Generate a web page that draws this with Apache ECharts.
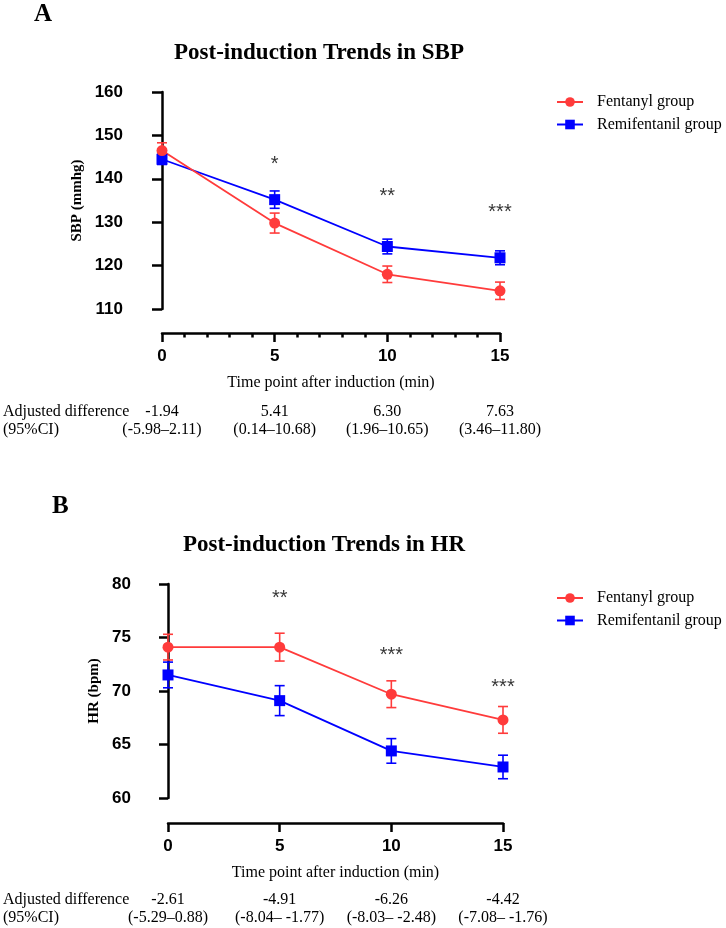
<!DOCTYPE html>
<html>
<head>
<meta charset="utf-8">
<script src="https://cdn.jsdelivr.net/npm/echarts@6/dist/echarts.min.js"></script>
<style>
html,body{margin:0;padding:0;background:#fff;}
#chart{width:726px;height:928px;}
</style>
</head>
<body>
<div id="chart"></div>
<script>
// ---- data ----
const times = [0, 5, 10, 15];
const groupNames = ['Fentanyl group', 'Remifentanil group'];

const sbpFentanyl = [146.5, 129.8, 118.0, 114.2];
const sbpFentanylErr = [1.8, 2.3, 1.9, 2.0];
const sbpRemi = [144.5, 135.2, 124.4, 121.8];
const sbpRemiErr = [1.2, 2.0, 1.7, 1.6];
const sbpStars = ['', '*', '**', '***'];
const sbpStarY = [null, 143.3, 136.0, 132.3];
const sbpAdj = ['-1.94', '5.41', '6.30', '7.63'];
const sbpCI = ['(-5.98–2.11)', '(0.14–10.68)', '(1.96–10.65)', '(3.46–11.80)'];

const hrFentanyl = [74.1, 74.1, 69.7, 67.3];
const hrFentanylErr = [1.2, 1.3, 1.25, 1.25];
const hrRemi = [71.5, 69.1, 64.4, 62.9];
const hrRemiErr = [1.2, 1.4, 1.15, 1.1];
const hrStars = ['', '**', '***', '***'];
const hrStarY = [null, 78.6, 73.3, 70.3];
const hrAdj = ['-2.61', '-4.91', '-6.26', '-4.42'];
const hrCI = ['(-5.29–0.88)', '(-8.04– -1.77)', '(-8.03– -2.48)', '(-7.08– -1.76)'];

const sbpTicks = {min: 110, max: 160, interval: 10};
const hrTicks = {min: 60, max: 80, interval: 5};

// ---- styles ----
const RED = '#ff3b3b';
const BLUE = '#0000ff';
const SERIF = 'Liberation Serif';
const SANS = 'Liberation Sans';

const chart = echarts.init(document.getElementById('chart'), null, {renderer: 'canvas'});

function errRender(color) {
  return function (params, api) {
    const x = api.value(0), y = api.value(1), e = api.value(2);
    const top = api.coord([x, y + e]);
    const bot = api.coord([x, y - e]);
    const w = 5;
    const style = {stroke: color, lineWidth: 1.6, fill: null};
    return {
      type: 'group',
      children: [
        {type: 'line', shape: {x1: top[0], y1: top[1], x2: bot[0], y2: bot[1]}, style: style},
        {type: 'line', shape: {x1: top[0] - w, y1: top[1], x2: top[0] + w, y2: top[1]}, style: style},
        {type: 'line', shape: {x1: bot[0] - w, y1: bot[1], x2: bot[0] + w, y2: bot[1]}, style: style}
      ]
    };
  };
}

function pairs(vals) { return times.map((t, i) => [t, vals[i]]); }
function triples(vals, errs) { return times.map((t, i) => [t, vals[i], errs[i]]); }
function starData(labels, ys) {
  const out = [];
  times.forEach((t, i) => { if (labels[i]) out.push([t, ys[i], labels[i]]); });
  return out;
}

function makeYAxis(gridIndex, ticks, name, offset, nameGap, labelMargin, tickLen) {
  return {
    type: 'value', gridIndex: gridIndex, min: ticks.min, max: ticks.max, interval: ticks.interval,
    offset: offset, name: name, nameLocation: 'middle', nameGap: nameGap, nameRotate: 90,
    nameTextStyle: {fontFamily: SERIF, fontWeight: 'bold', fontSize: 15, color: '#000'},
    axisLine: {show: true, lineStyle: {color: '#000', width: 2.5}},
    axisTick: {show: true, length: tickLen, lineStyle: {color: '#000', width: 2.5}},
    axisLabel: {margin: labelMargin, fontFamily: SANS, fontWeight: 'bold', fontSize: 17, color: '#000'},
    splitLine: {show: false}
  };
}

function makeXAxis(gridIndex, offset, minor) {
  return {
    type: 'value', gridIndex: gridIndex, min: 0, max: 15, interval: 5, position: 'bottom',
    offset: offset, name: 'Time point after induction (min)', nameLocation: 'middle', nameGap: 42,
    nameTextStyle: {fontFamily: SERIF, fontSize: 16, color: '#000'},
    axisLine: {show: true, onZero: false, lineStyle: {color: '#000', width: 2.5}},
    axisTick: {show: true, length: 9, lineStyle: {color: '#000', width: 2.5}},
    minorTick: {show: minor, splitNumber: 5, length: 4.5, lineStyle: {color: '#000', width: 2.5}},
    axisLabel: {margin: 15, fontFamily: SANS, fontWeight: 'bold', fontSize: 17, color: '#000'},
    splitLine: {show: false}, minorSplitLine: {show: false}
  };
}

function makeAdjAxis(gridIndex, offset, margin, adj, ci) {
  return {
    type: 'value', gridIndex: gridIndex, min: 0, max: 15, interval: 5, position: 'bottom',
    offset: offset,
    axisLine: {show: false, onZero: false}, axisTick: {show: false}, splitLine: {show: false},
    axisLabel: {
      margin: margin, color: '#000',
      formatter: function (v) { const i = Math.round(v / 5); return '{a|' + adj[i] + '}\n{a|' + ci[i] + '}'; },
      rich: {a: {fontFamily: SERIF, fontSize: 16, lineHeight: 18, color: '#000'}}
    }
  };
}

function lineSeries(name, xi, yi, vals, color, symbol) {
  return {
    name: name, type: 'line', xAxisIndex: xi, yAxisIndex: yi, data: pairs(vals),
    symbol: symbol, symbolSize: 11, showSymbol: true,
    lineStyle: {color: color, width: 1.8}, itemStyle: {color: color}, z: 3
  };
}
function errSeries(name, xi, yi, vals, errs, color) {
  return {
    name: name, type: 'custom', xAxisIndex: xi, yAxisIndex: yi, data: triples(vals, errs),
    renderItem: errRender(color), z: 2
  };
}
function starSeries(xi, yi, labels, ys) {
  return {
    name: 'stars', type: 'scatter', xAxisIndex: xi, yAxisIndex: yi, data: starData(labels, ys),
    symbolSize: 1, itemStyle: {color: 'rgba(0,0,0,0)'},
    label: {show: true, position: 'inside', formatter: p => p.value[2],
      fontFamily: SANS, fontSize: 20, color: '#000'}
  };
}

function legendCfg(top) {
  return {
    data: groupNames, orient: 'vertical', left: 556, top: top, padding: 0,
    itemWidth: 26, itemHeight: 12, itemGap: 6.5, selectedMode: false,
    textStyle: {fontFamily: SERIF, fontSize: 16, color: '#000', lineHeight: 16, padding: [0, 0, 0, 9]}
  };
}

const option = {
  animation: false,
  backgroundColor: '#fff',
  grid: [
    {left: 162, top: 92, width: 338, height: 217},
    {left: 168, top: 584, width: 335, height: 214}
  ],
  xAxis: [
    makeXAxis(0, 24, true),
    makeAdjAxis(0, 24, 70, sbpAdj, sbpCI),
    makeXAxis(1, 25, false),
    makeAdjAxis(1, 25, 68, hrAdj, hrCI)
  ],
  yAxis: [
    makeYAxis(0, sbpTicks, 'SBP (mmhg)', 23, 54, 16, 10),
    makeYAxis(1, hrTicks, 'HR (bpm)', 25, 41, 12, 9)
  ],
  legend: [legendCfg(94), legendCfg(590)],
  graphic: [
    {type: 'text', left: 34, top: 2, style: {text: 'A', font: 'bold 25px "Liberation Serif"', fill: '#000'}},
    {type: 'text', left: 52, top: 494, style: {text: 'B', font: 'bold 25px "Liberation Serif"', fill: '#000'}},
    {type: 'text', x: 319, y: 53, style: {text: 'Post-induction Trends in SBP', font: 'bold 23px "Liberation Serif"', fill: '#000', textAlign: 'center', textVerticalAlign: 'middle'}},
    {type: 'text', x: 324, y: 545, style: {text: 'Post-induction Trends in HR', font: 'bold 23px "Liberation Serif"', fill: '#000', textAlign: 'center', textVerticalAlign: 'middle'}},
    {type: 'text', x: 3, y: 412, style: {text: 'Adjusted difference', font: '16px "Liberation Serif"', fill: '#000', textVerticalAlign: 'middle'}},
    {type: 'text', x: 3, y: 430, style: {text: '(95%CI)', font: '16px "Liberation Serif"', fill: '#000', textVerticalAlign: 'middle'}},
    {type: 'text', x: 3, y: 900, style: {text: 'Adjusted difference', font: '16px "Liberation Serif"', fill: '#000', textVerticalAlign: 'middle'}},
    {type: 'text', x: 3, y: 918, style: {text: '(95%CI)', font: '16px "Liberation Serif"', fill: '#000', textVerticalAlign: 'middle'}}
  ],
  series: [
    errSeries('errRemiSBP', 0, 0, sbpRemi, sbpRemiErr, BLUE),
    lineSeries(groupNames[1], 0, 0, sbpRemi, BLUE, 'rect'),
    errSeries('errFentSBP', 0, 0, sbpFentanyl, sbpFentanylErr, RED),
    lineSeries(groupNames[0], 0, 0, sbpFentanyl, RED, 'circle'),
    starSeries(0, 0, sbpStars, sbpStarY),
    errSeries('errRemiHR', 2, 1, hrRemi, hrRemiErr, BLUE),
    lineSeries(groupNames[1], 2, 1, hrRemi, BLUE, 'rect'),
    errSeries('errFentHR', 2, 1, hrFentanyl, hrFentanylErr, RED),
    lineSeries(groupNames[0], 2, 1, hrFentanyl, RED, 'circle'),
    starSeries(2, 1, hrStars, hrStarY)
  ]
};
chart.setOption(option);
</script>
</body>
</html>
